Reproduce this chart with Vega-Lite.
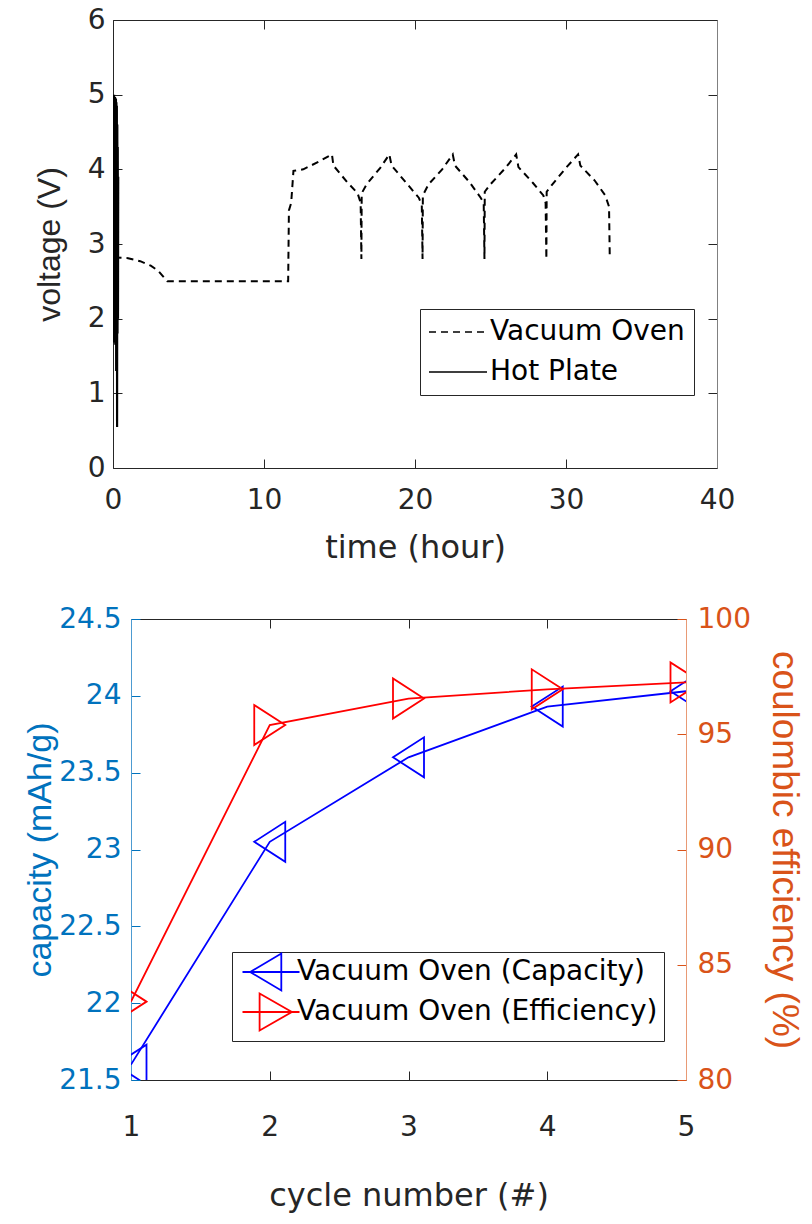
{
  "$schema": "https://vega.github.io/schema/vega-lite/v6.json",
  "background": "white",
  "padding": {"left": 23, "top": 6, "right": 2, "bottom": 2},
  "columns": 1,
  "align": "none",
  "spacing": 42,
  "config": {
    "font": "DejaVu Sans",
    "view": {"stroke": null},
    "axis": {
      "grid": false,
      "labelFont": "DejaVu Sans",
      "titleFont": "DejaVu Sans",
      "labelFontSize": 28,
      "titleFontSize": 32,
      "titleFontWeight": "normal",
      "labelColor": "#262626",
      "titleColor": "#262626",
      "domainColor": "#262626",
      "tickColor": "#262626",
      "tickSize": -9,
      "labelPadding": 17,
      "labelFlush": false,
      "labelOverlap": false
    },
    "legend": {
      "labelFont": "DejaVu Sans",
      "labelFontSize": 28,
      "labelColor": "black",
      "labelLimit": 600
    }
  },
  "resolve": {"scale": {"strokeDash": "independent", "shape": "independent", "color": "independent"}},
  "datasets": {
    "vacuum": [
      {"t": 0.1, "v": 2.82}, {"t": 1.0, "v": 2.81}, {"t": 1.8, "v": 2.77}, {"t": 2.5, "v": 2.71},
      {"t": 3.0, "v": 2.64}, {"t": 3.3, "v": 2.57}, {"t": 3.6, "v": 2.5}, {"t": 11.6, "v": 2.5},
      {"t": 11.65, "v": 3.45}, {"t": 11.8, "v": 3.55}, {"t": 11.95, "v": 3.98}, {"t": 12.6, "v": 4.0},
      {"t": 13.6, "v": 4.1}, {"t": 14.5, "v": 4.2}, {"t": 14.6, "v": 4.05}, {"t": 15.5, "v": 3.83},
      {"t": 16.2, "v": 3.68}, {"t": 16.4, "v": 3.55}, {"t": 16.45, "v": 2.8}, {"t": 16.47, "v": 3.68},
      {"t": 16.8, "v": 3.8}, {"t": 17.7, "v": 4.02}, {"t": 18.3, "v": 4.2}, {"t": 18.45, "v": 4.05},
      {"t": 19.5, "v": 3.8}, {"t": 20.25, "v": 3.62}, {"t": 20.45, "v": 3.52}, {"t": 20.5, "v": 2.8},
      {"t": 20.52, "v": 3.65}, {"t": 20.9, "v": 3.8}, {"t": 21.8, "v": 4.0}, {"t": 22.5, "v": 4.2},
      {"t": 22.65, "v": 4.05}, {"t": 23.6, "v": 3.83}, {"t": 24.35, "v": 3.62}, {"t": 24.55, "v": 3.55},
      {"t": 24.6, "v": 2.8}, {"t": 24.62, "v": 3.7}, {"t": 25.0, "v": 3.8}, {"t": 26.0, "v": 4.02},
      {"t": 26.7, "v": 4.2}, {"t": 26.85, "v": 4.03}, {"t": 27.8, "v": 3.82}, {"t": 28.5, "v": 3.65},
      {"t": 28.65, "v": 3.55}, {"t": 28.7, "v": 2.8}, {"t": 28.72, "v": 3.7}, {"t": 29.1, "v": 3.8},
      {"t": 30.0, "v": 4.02}, {"t": 30.8, "v": 4.2}, {"t": 30.95, "v": 4.05}, {"t": 31.9, "v": 3.85},
      {"t": 32.6, "v": 3.65}, {"t": 32.85, "v": 3.5}, {"t": 32.9, "v": 2.8}
    ],
    "hotplate": [
      {"t": 0.0, "v": 2.8}, {"t": 0.015, "v": 5.0}, {"t": 0.03, "v": 1.7}, {"t": 0.045, "v": 4.98},
      {"t": 0.06, "v": 1.68}, {"t": 0.075, "v": 5.0}, {"t": 0.09, "v": 1.7}, {"t": 0.105, "v": 4.95},
      {"t": 0.12, "v": 1.72}, {"t": 0.135, "v": 4.97}, {"t": 0.15, "v": 1.65}, {"t": 0.165, "v": 4.9},
      {"t": 0.18, "v": 1.7}, {"t": 0.195, "v": 4.95}, {"t": 0.21, "v": 1.3}, {"t": 0.225, "v": 4.9},
      {"t": 0.24, "v": 1.7}, {"t": 0.255, "v": 4.85}, {"t": 0.27, "v": 0.55}, {"t": 0.285, "v": 4.6},
      {"t": 0.3, "v": 1.8}, {"t": 0.315, "v": 4.3}, {"t": 0.33, "v": 2.0}, {"t": 0.345, "v": 3.9}
    ],
    "cycles": [
      {"cycle": 1, "cap": 21.6, "eff": 83.4},
      {"cycle": 2, "cap": 23.05, "eff": 95.4},
      {"cycle": 3, "cap": 23.6, "eff": 96.55},
      {"cycle": 4, "cap": 23.93, "eff": 96.95},
      {"cycle": 5, "cap": 24.03, "eff": 97.25}
    ],
    "legendrows": [
      {"series": "Vacuum Oven (Capacity)"},
      {"series": "Vacuum Oven (Efficiency)"}
    ]
  },
  "concat": [
    {
      "width": 604,
      "height": 448,
      "layer": [
        {
          "data": {"name": "vacuum"},
          "mark": {"type": "line", "color": "black", "strokeWidth": 2, "clip": true},
          "encoding": {
            "x": {"field": "t", "type": "quantitative", "scale": {"domain": [0, 40], "nice": false},
              "axis": {"values": [0, 10, 20, 30, 40], "title": "time (hour)", "labelPadding": 27, "titlePadding": 18}},
            "y": {"field": "v", "type": "quantitative", "scale": {"domain": [0, 6], "nice": false},
              "axis": {"values": [0, 1, 2, 3, 4, 5, 6], "title": "voltage (V)", "titleFont": "Liberation Sans",
                "labelPadding": 17, "titlePadding": 21}},
            "strokeDash": {
              "datum": "Vacuum Oven",
              "scale": {"domain": ["Vacuum Oven", "Hot Plate"], "range": [[7, 5], [1, 0]]},
              "legend": {
                "title": null,
                "orient": "none",
                "legendX": 307,
                "legendY": 289,
                "strokeColor": "#262626",
                "fillColor": "white",
                "padding": 9,
                "symbolType": "M-2.9,0H2.9",
                "symbolSize": 400,
                "symbolStrokeWidth": 1.5,
                "symbolStrokeColor": "black",
                "symbolOffset": 15,
                "labelOffset": 18,
                "rowPadding": 12
              }
            }
          }
        },
        {
          "data": {"name": "hotplate"},
          "mark": {"type": "line", "color": "black", "strokeWidth": 2.2, "clip": true},
          "encoding": {
            "x": {"field": "t", "type": "quantitative",
              "axis": {"orient": "top", "labels": false, "title": null, "values": [0, 10, 20, 30, 40]}},
            "y": {"field": "v", "type": "quantitative",
              "axis": {"orient": "right", "labels": false, "title": null, "values": [0, 1, 2, 3, 4, 5, 6], "domainColor": "#808080"}},
            "strokeDash": {"datum": "Hot Plate"}
          }
        }
      ],
      "resolve": {"axis": {"x": "independent", "y": "independent"}}
    },
    {
      "hconcat": [
        {
          "width": 1,
          "height": 1,
          "data": {"values": []},
          "mark": {"type": "point", "opacity": 0}
        },
        {
          "width": 555,
          "height": 461,
          "layer": [
            {
              "data": {"name": "cycles"},
              "encoding": {
                "x": {"field": "cycle", "type": "quantitative", "scale": {"domain": [1, 5], "nice": false},
                  "axis": {"values": [1, 2, 3, 4, 5], "title": "cycle number (#)", "labelPadding": 42, "titlePadding": 39}},
                "y": {"field": "cap", "type": "quantitative", "scale": {"domain": [21.5, 24.5], "nice": false, "zero": false},
                  "axis": {"values": [21.5, 22, 22.5, 23, 23.5, 24, 24.5], "format": "~g", "title": "capacity (mAh/g)",
                    "titleFont": "Liberation Sans", "titleFontSize": 34, "titleX": -74, "titleY": 230.5,
                    "labelColor": "#0072BD", "titleColor": "#0072BD", "tickColor": "#0072BD", "domainColor": "#4D9BD1",
                    "labelPadding": 19, "titlePadding": 0}}
              },
              "layer": [
                {"mark": {"type": "line", "color": "#0000FF", "strokeWidth": 1.8, "clip": true}},
                {"mark": {"type": "point", "shape": "M-0.775,0L0.775,-1L0.775,1Z", "size": 1600, "color": "#0000FF",
                  "filled": false, "strokeWidth": 1.8, "opacity": 1, "clip": true}}
              ]
            },
            {
              "data": {"name": "cycles"},
              "encoding": {
                "x": {"field": "cycle", "type": "quantitative",
                  "axis": {"orient": "top", "labels": false, "title": null, "values": [1, 2, 3, 4, 5]}},
                "y": {"field": "eff", "type": "quantitative", "scale": {"domain": [80, 100], "nice": false, "zero": false},
                  "axis": {"orient": "right", "values": [80, 85, 90, 95, 100], "title": "coulombic efficiency (%)",
                    "titleFont": "Liberation Sans", "titleFontSize": 37,
                    "labelColor": "#D95319", "titleColor": "#D95319", "tickColor": "#D95319", "domainColor": "#E89A75",
                    "labelPadding": 20, "titlePadding": 14}}
              },
              "layer": [
                {"mark": {"type": "line", "color": "#FF0000", "strokeWidth": 1.8, "clip": true}},
                {"mark": {"type": "point", "shape": "M0.775,0L-0.775,-1L-0.775,1Z", "size": 1600, "color": "#FF0000",
                  "filled": false, "strokeWidth": 1.8, "opacity": 1, "clip": true}}
              ]
            },
            {
              "data": {"name": "legendrows"},
              "transform": [{"filter": "false"}],
              "mark": {"type": "point", "opacity": 1, "filled": false, "strokeWidth": 1.8},
              "encoding": {
                "shape": {
                  "field": "series",
                  "type": "nominal",
                  "scale": {
                    "domain": ["Vacuum Oven (Capacity)", "Vacuum Oven (Efficiency)"],
                    "range": ["M-2.85,0H2.85M-2.09,0L1.03,-1.85L1.03,1.85Z", "M-2.85,0H2.85M-1.14,-1.85L2.09,0L-1.14,1.85Z"]
                  },
                  "legend": {
                    "title": null,
                    "orient": "none",
                    "legendX": 101,
                    "legendY": 333,
                    "strokeColor": "#262626",
                    "fillColor": "white",
                    "padding": 6,
                    "symbolSize": 400,
                    "symbolStrokeWidth": 1.8,
                    "symbolOpacity": 1,
                    "symbolOffset": 19,
                    "labelOffset": 12,
                    "rowPadding": -6
                  }
                },
                "color": {
                  "field": "series",
                  "type": "nominal",
                  "scale": {
                    "domain": ["Vacuum Oven (Capacity)", "Vacuum Oven (Efficiency)"],
                    "range": ["#0000FF", "#FF0000"]
                  },
                  "legend": {
                    "title": null,
                    "orient": "none",
                    "legendX": 101,
                    "legendY": 333,
                    "strokeColor": "#262626",
                    "fillColor": "white",
                    "padding": 6,
                    "symbolSize": 400,
                    "symbolStrokeWidth": 1.8,
                    "symbolOpacity": 1,
                    "symbolOffset": 19,
                    "labelOffset": 12,
                    "rowPadding": -6
                  }
                }
              }
            }
          ],
          "resolve": {"scale": {"y": "independent"}, "axis": {"x": "independent"}}
        }
      ],
      "spacing": -91,
      "resolve": {"scale": {"shape": "independent", "color": "independent"}}
    }
  ]
}
